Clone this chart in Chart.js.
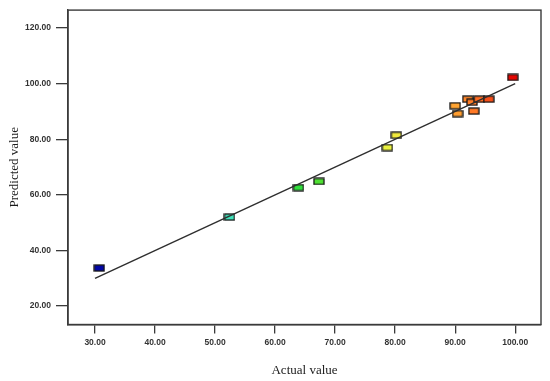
<!DOCTYPE html>
<html>
<head>
<meta charset="utf-8">
<script src="https://cdn.jsdelivr.net/npm/chart.js@4/dist/chart.umd.min.js"></script>
<style>
  html, body { margin: 0; padding: 0; background: #ffffff; }
  #wrap { width: 550px; height: 381px; position: relative; }
</style>
</head>
<body>
<div id="wrap"><canvas id="c" width="550" height="381"></canvas></div>
<script>
// ---- data ----
const actualValues    = [30.7, 52.4, 63.9, 67.3, 78.7, 80.2, 90.0, 90.4, 92.1, 92.8, 93.1, 94.0, 95.6, 99.6];
const predictedValues = [33.7, 52.0, 62.6, 64.8, 77.0, 81.4, 92.0, 89.2, 94.4, 93.3, 90.1, 94.4, 94.4, 102.2];
const fitLineX = [30, 100];
const fitLineY = [30, 100];
const xTickValues = [30, 40, 50, 60, 70, 80, 90, 100];
const yTickValues = [20, 40, 60, 80, 100, 120];
const xAxisTitle = 'Actual value';
const yAxisTitle = 'Predicted value';

// ---- colour map (blue -> cyan -> green -> yellow -> orange -> red) ----
const colourStops = [
  [30,  [0, 0, 165]],
  [52,  [64, 226, 190]],
  [65,  [48, 222, 48]],
  [79,  [238, 242, 64]],
  [90,  [255, 164, 50]],
  [94,  [255, 108, 34]],
  [100, [226, 0, 0]]
];
function colourFor(v) {
  if (v <= colourStops[0][0]) return colourStops[0][1];
  for (let i = 1; i < colourStops.length; i++) {
    const [v1, c1] = colourStops[i];
    const [v0, c0] = colourStops[i - 1];
    if (v <= v1) {
      const t = (v - v0) / (v1 - v0);
      return c0.map((a, k) => Math.round(a + (c1[k] - a) * t));
    }
  }
  return colourStops[colourStops.length - 1][1];
}
function markerFor(v) {
  const c = document.createElement('canvas');
  c.width = 12; c.height = 8;
  const g = c.getContext('2d');
  const rgb = colourFor(v);
  g.fillStyle = 'rgb(' + rgb.join(',') + ')';
  g.fillRect(1, 1, 10, 6);
  g.strokeStyle = '#161616';
  g.lineWidth = 1.3;
  g.strokeRect(1, 1, 10, 6);
  return c;
}

const scatterPoints = actualValues.map((x, i) => ({ x: x, y: predictedValues[i] }));
const linePoints = fitLineX.map((x, i) => ({ x: x, y: fitLineY[i] }));
const markers = actualValues.map(markerFor);

const boxPlugin = {
  id: 'box',
  afterDraw(chart) {
    const { ctx, chartArea: a } = chart;
    ctx.save();
    ctx.strokeStyle = '#3a3a3a';
    ctx.lineWidth = 1.4;
    ctx.strokeRect(a.left, a.top, a.right - a.left, a.bottom - a.top);
    ctx.restore();
  }
};

const tickFont = { family: '"Liberation Sans", Arial, sans-serif', size: 8.5, weight: 'bold' };
const titleFont = { family: '"Liberation Serif", "Times New Roman", serif', size: 13 };

new Chart(document.getElementById('c'), {
  type: 'scatter',
  data: {
    datasets: [
      {
        type: 'line',
        data: linePoints,
        borderColor: '#2e2e2e',
        borderWidth: 1.4,
        pointRadius: 0,
        fill: false,
        order: 0
      },
      {
        type: 'scatter',
        data: scatterPoints,
        pointStyle: (ctx) => markers[ctx.dataIndex],
        pointRadius: 5,
        order: 1
      }
    ]
  },
  plugins: [boxPlugin],
  options: {
    responsive: false,
    animation: false,
    devicePixelRatio: 1,
    layout: { padding: { left: 0, right: 9, top: 8, bottom: 0 } },
    plugins: { legend: { display: false }, tooltip: { enabled: false } },
    scales: {
      x: {
        type: 'linear',
        min: 25.5,
        max: 104.3,
        afterFit: (s) => { s.height = 56.5; },
        afterBuildTicks: (s) => { s.ticks = xTickValues.map(v => ({ value: v })); },
        ticks: {
          includeBounds: false,
          font: tickFont,
          color: '#333333',
          padding: 4,
          maxRotation: 0,
          callback: (v) => Number(v).toFixed(2)
        },
        grid: { drawOnChartArea: false, drawTicks: true, tickLength: 9, color: '#3a3a3a', lineWidth: 1.3 },
        border: { display: true, color: '#3a3a3a', width: 1.4 },
        title: { display: true, text: xAxisTitle, font: titleFont, color: '#1a1a1a', padding: { top: 0, bottom: 3 } }
      },
      y: {
        type: 'linear',
        min: 13.4,
        max: 126.4,
        afterFit: (s) => { s.width = 68; },
        afterBuildTicks: (s) => { s.ticks = yTickValues.map(v => ({ value: v })); },
        ticks: {
          includeBounds: false,
          font: tickFont,
          color: '#333333',
          padding: 5,
          callback: (v) => Number(v).toFixed(2)
        },
        grid: { drawOnChartArea: false, drawTicks: true, tickLength: 12, color: '#3a3a3a', lineWidth: 1.3 },
        border: { display: true, color: '#3a3a3a', width: 1.4 },
        title: { display: true, text: yAxisTitle, font: titleFont, color: '#1a1a1a', padding: { top: 7, bottom: 0 } }
      }
    }
  }
});
</script>
</body>
</html>
